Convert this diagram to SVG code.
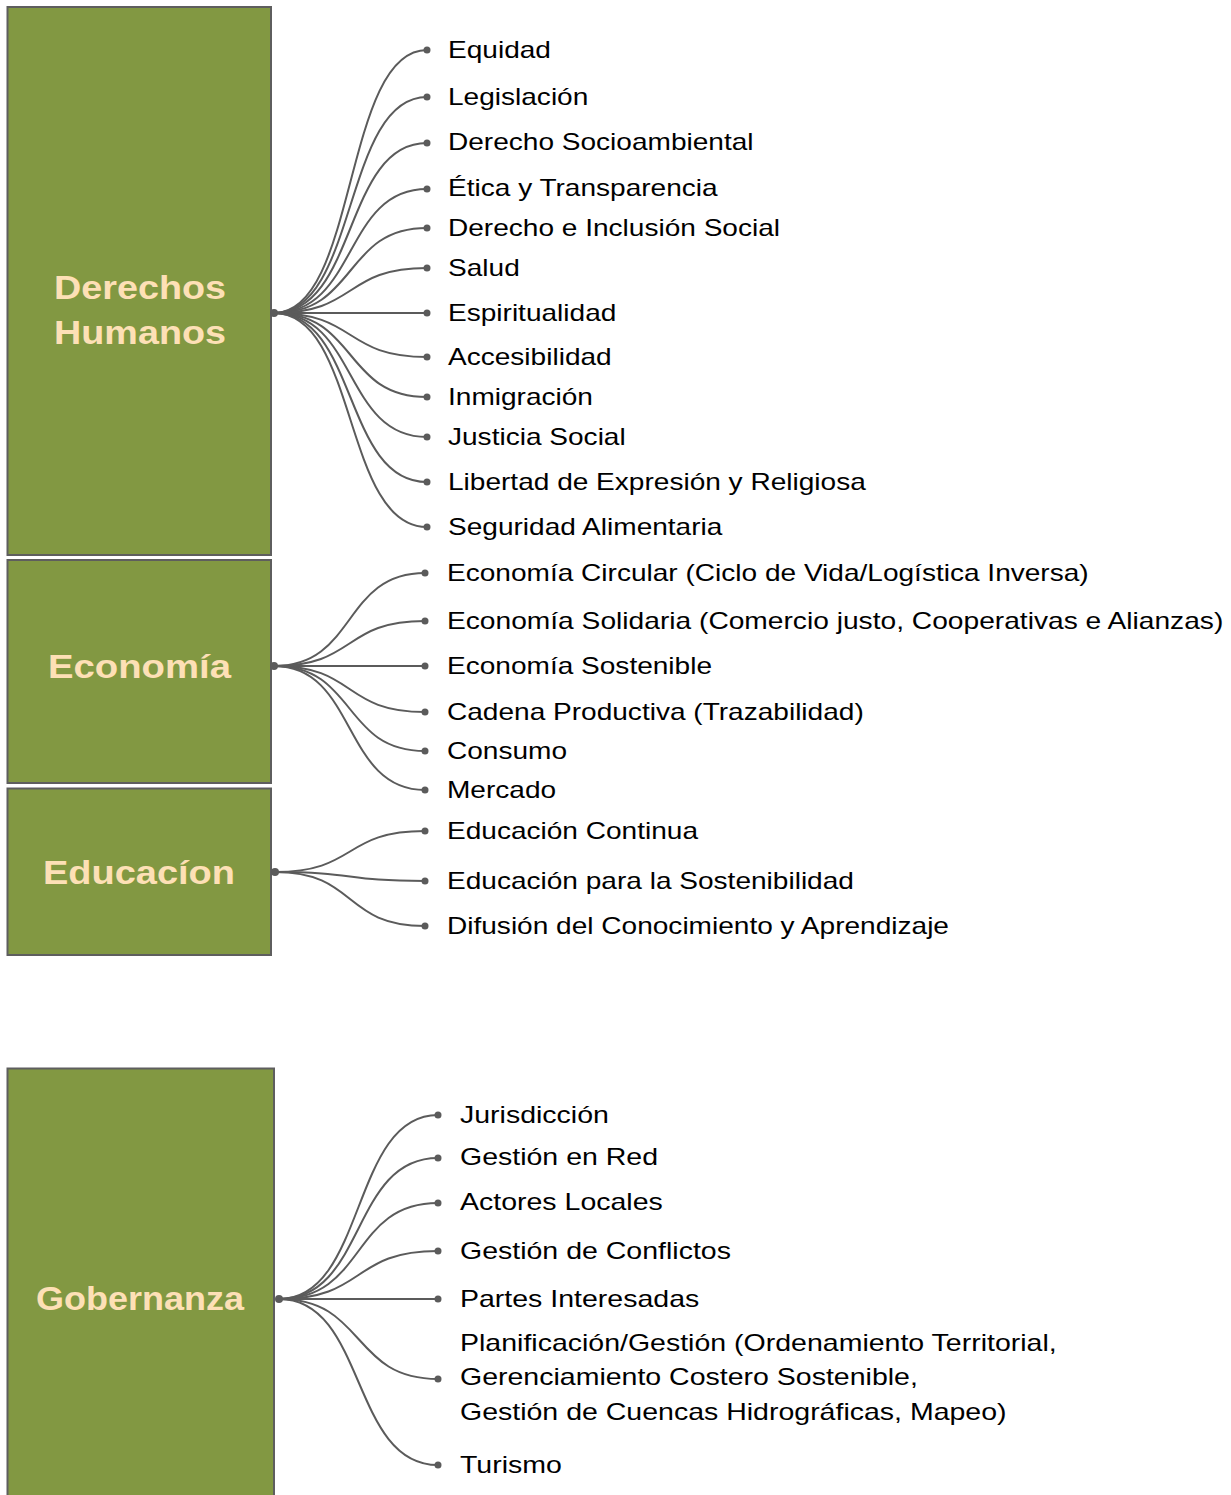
<svg xmlns="http://www.w3.org/2000/svg" width="1231" height="1495" viewBox="0 0 1231 1495">
<style>
.box{fill:#829842;stroke:#5e5e5e;stroke-width:2}
.lbl{font-family:"Liberation Sans",Arial,sans-serif;font-weight:bold;font-size:33px;fill:#fde0b6;text-anchor:middle}
.it{font-family:"Liberation Sans",Arial,sans-serif;font-size:23px;fill:#000}
.c{fill:none;stroke:#5b5b5b;stroke-width:2}
.d{fill:#5b5b5b}
</style>
<rect width="1231" height="1495" fill="#fff"/>
<g id="derechos-humanos">
<rect class="box" x="7.5" y="7" width="263.5" height="548"/>
<text class="lbl" x="140" y="299" textLength="172" lengthAdjust="spacingAndGlyphs">Derechos</text>
<text class="lbl" x="140" y="344" textLength="172" lengthAdjust="spacingAndGlyphs">Humanos</text>
</g>
<g id="economia">
<rect class="box" x="7.5" y="560" width="263.5" height="223"/>
<text class="lbl" x="139.5" y="678" textLength="183" lengthAdjust="spacingAndGlyphs">Economía</text>
</g>
<g id="educacion">
<rect class="box" x="7.5" y="788.5" width="263.5" height="166.5"/>
<text class="lbl" x="139" y="884" textLength="192" lengthAdjust="spacingAndGlyphs">Educacíon</text>
</g>
<g id="gobernanza">
<rect class="box" x="7.5" y="1068.5" width="266.5" height="440"/>
<text class="lbl" x="140" y="1310" textLength="208" lengthAdjust="spacingAndGlyphs">Gobernanza</text>
</g>
<g id="connectors">
<g id="conn-derechos">
<path class="c" d="M274 313 C358 313 343 50 427 50"/>
<path class="c" d="M274 313 C358 313 343 97 427 97"/>
<path class="c" d="M274 313 C358 313 343 143 427 143"/>
<path class="c" d="M274 313 C358 313 343 189 427 189"/>
<path class="c" d="M274 313 C358 313 343 228 427 228"/>
<path class="c" d="M274 313 C358 313 343 268 427 268"/>
<path class="c" d="M274 313 C358 313 343 313 427 313"/>
<path class="c" d="M274 313 C358 313 343 357 427 357"/>
<path class="c" d="M274 313 C358 313 343 397 427 397"/>
<path class="c" d="M274 313 C358 313 343 437 427 437"/>
<path class="c" d="M274 313 C358 313 343 482 427 482"/>
<path class="c" d="M274 313 C358 313 343 527 427 527"/>
<circle class="d" cx="274" cy="313" r="4"/>
<circle class="d" cx="427" cy="50" r="3.5"/><circle class="d" cx="427" cy="97" r="3.5"/><circle class="d" cx="427" cy="143" r="3.5"/><circle class="d" cx="427" cy="189" r="3.5"/><circle class="d" cx="427" cy="228" r="3.5"/><circle class="d" cx="427" cy="268" r="3.5"/><circle class="d" cx="427" cy="313" r="3.5"/><circle class="d" cx="427" cy="357" r="3.5"/><circle class="d" cx="427" cy="397" r="3.5"/><circle class="d" cx="427" cy="437" r="3.5"/><circle class="d" cx="427" cy="482" r="3.5"/><circle class="d" cx="427" cy="527" r="3.5"/>
</g>
<g id="conn-economia">
<path class="c" d="M274 666 C357 666 342 573 425 573"/>
<path class="c" d="M274 666 C357 666 342 621 425 621"/>
<path class="c" d="M274 666 C357 666 342 666 425 666"/>
<path class="c" d="M274 666 C357 666 342 712 425 712"/>
<path class="c" d="M274 666 C357 666 342 751 425 751"/>
<path class="c" d="M274 666 C357 666 342 790 425 790"/>
<circle class="d" cx="274" cy="666" r="4"/>
<circle class="d" cx="425" cy="573" r="3.5"/><circle class="d" cx="425" cy="621" r="3.5"/><circle class="d" cx="425" cy="666" r="3.5"/><circle class="d" cx="425" cy="712" r="3.5"/><circle class="d" cx="425" cy="751" r="3.5"/><circle class="d" cx="425" cy="790" r="3.5"/>
</g>
<g id="conn-educacion">
<path class="c" d="M275 872 C357.5 872 342.5 831 425 831"/>
<path class="c" d="M275 872 C357.5 872 342.5 881 425 881"/>
<path class="c" d="M275 872 C357.5 872 342.5 926 425 926"/>
<circle class="d" cx="275" cy="872" r="4"/>
<circle class="d" cx="425" cy="831" r="3.5"/><circle class="d" cx="425" cy="881" r="3.5"/><circle class="d" cx="425" cy="926" r="3.5"/>
</g>
<g id="conn-gobernanza">
<path class="c" d="M279 1299 C366.5 1299 350.5 1115 438 1115"/>
<path class="c" d="M279 1299 C366.5 1299 350.5 1158 438 1158"/>
<path class="c" d="M279 1299 C366.5 1299 350.5 1203 438 1203"/>
<path class="c" d="M279 1299 C366.5 1299 350.5 1251 438 1251"/>
<path class="c" d="M279 1299 C366.5 1299 350.5 1299 438 1299"/>
<path class="c" d="M279 1299 C366.5 1299 350.5 1379 438 1379"/>
<path class="c" d="M279 1299 C366.5 1299 350.5 1465 438 1465"/>
<circle class="d" cx="279" cy="1299" r="4"/>
<circle class="d" cx="438" cy="1115" r="3.5"/><circle class="d" cx="438" cy="1158" r="3.5"/><circle class="d" cx="438" cy="1203" r="3.5"/><circle class="d" cx="438" cy="1251" r="3.5"/><circle class="d" cx="438" cy="1299" r="3.5"/><circle class="d" cx="438" cy="1379" r="3.5"/><circle class="d" cx="438" cy="1465" r="3.5"/>
</g>
</g>
<g id="items-derechos">
<g id="dh-1"><text class="it" transform="translate(448 58) scale(1.22 1)">Equidad</text></g>
<g id="dh-2"><text class="it" transform="translate(448 104.5) scale(1.22 1)">Legislación</text></g>
<g id="dh-3"><text class="it" transform="translate(448 150) scale(1.22 1)">Derecho Socioambiental</text></g>
<g id="dh-4"><text class="it" transform="translate(448 196) scale(1.22 1)">Ética y Transparencia</text></g>
<g id="dh-5"><text class="it" transform="translate(448 235.5) scale(1.22 1)">Derecho e Inclusión Social</text></g>
<g id="dh-6"><text class="it" transform="translate(448 275.5) scale(1.22 1)">Salud</text></g>
<g id="dh-7"><text class="it" transform="translate(448 321) scale(1.22 1)">Espiritualidad</text></g>
<g id="dh-8"><text class="it" transform="translate(448 365) scale(1.22 1)">Accesibilidad</text></g>
<g id="dh-9"><text class="it" transform="translate(448 405) scale(1.22 1)">Inmigración</text></g>
<g id="dh-10"><text class="it" transform="translate(448 445) scale(1.22 1)">Justicia Social</text></g>
<g id="dh-11"><text class="it" transform="translate(448 490) scale(1.22 1)">Libertad de Expresión y Religiosa</text></g>
<g id="dh-12"><text class="it" transform="translate(448 535) scale(1.22 1)">Seguridad Alimentaria</text></g>
</g>
<g id="items-economia">
<g id="ec-1"><text class="it" transform="translate(447 580.5) scale(1.22 1)">Economía Circular (Ciclo de Vida/Logística Inversa)</text></g>
<g id="ec-2"><text class="it" transform="translate(447 628.5) scale(1.225 1)">Economía Solidaria (Comercio justo, Cooperativas e Alianzas)</text></g>
<g id="ec-3"><text class="it" transform="translate(447 674) scale(1.22 1)">Economía Sostenible</text></g>
<g id="ec-4"><text class="it" transform="translate(447 720) scale(1.22 1)">Cadena Productiva (Trazabilidad)</text></g>
<g id="ec-5"><text class="it" transform="translate(447 758.5) scale(1.22 1)">Consumo</text></g>
<g id="ec-6"><text class="it" transform="translate(447 798) scale(1.22 1)">Mercado</text></g>
</g>
<g id="items-educacion">
<g id="ed-1"><text class="it" transform="translate(447 838.5) scale(1.22 1)">Educación Continua</text></g>
<g id="ed-2"><text class="it" transform="translate(447 888.5) scale(1.22 1)">Educación para la Sostenibilidad</text></g>
<g id="ed-3"><text class="it" transform="translate(447 933.5) scale(1.22 1)">Difusión del Conocimiento y Aprendizaje</text></g>
</g>
<g id="items-gobernanza">
<g id="go-1"><text class="it" transform="translate(460 1122.5) scale(1.24 1)">Jurisdicción</text></g>
<g id="go-2"><text class="it" transform="translate(460 1164.5) scale(1.24 1)">Gestión en Red</text></g>
<g id="go-3"><text class="it" transform="translate(460 1209.5) scale(1.24 1)">Actores Locales</text></g>
<g id="go-4"><text class="it" transform="translate(460 1258.5) scale(1.24 1)">Gestión de Conflictos</text></g>
<g id="go-5"><text class="it" transform="translate(460 1306.5) scale(1.24 1)">Partes Interesadas</text></g>
<g id="go-6">
<text class="it" transform="translate(460 1351) scale(1.24 1)">Planificación/Gestión (Ordenamiento Territorial,</text>
<text class="it" transform="translate(460 1385) scale(1.24 1)">Gerenciamiento Costero Sostenible,</text>
<text class="it" transform="translate(460 1419.5) scale(1.24 1)">Gestión de Cuencas Hidrográficas, Mapeo)</text>
</g>
<g id="go-7"><text class="it" transform="translate(460 1472.5) scale(1.24 1)">Turismo</text></g>
</g>
</svg>
